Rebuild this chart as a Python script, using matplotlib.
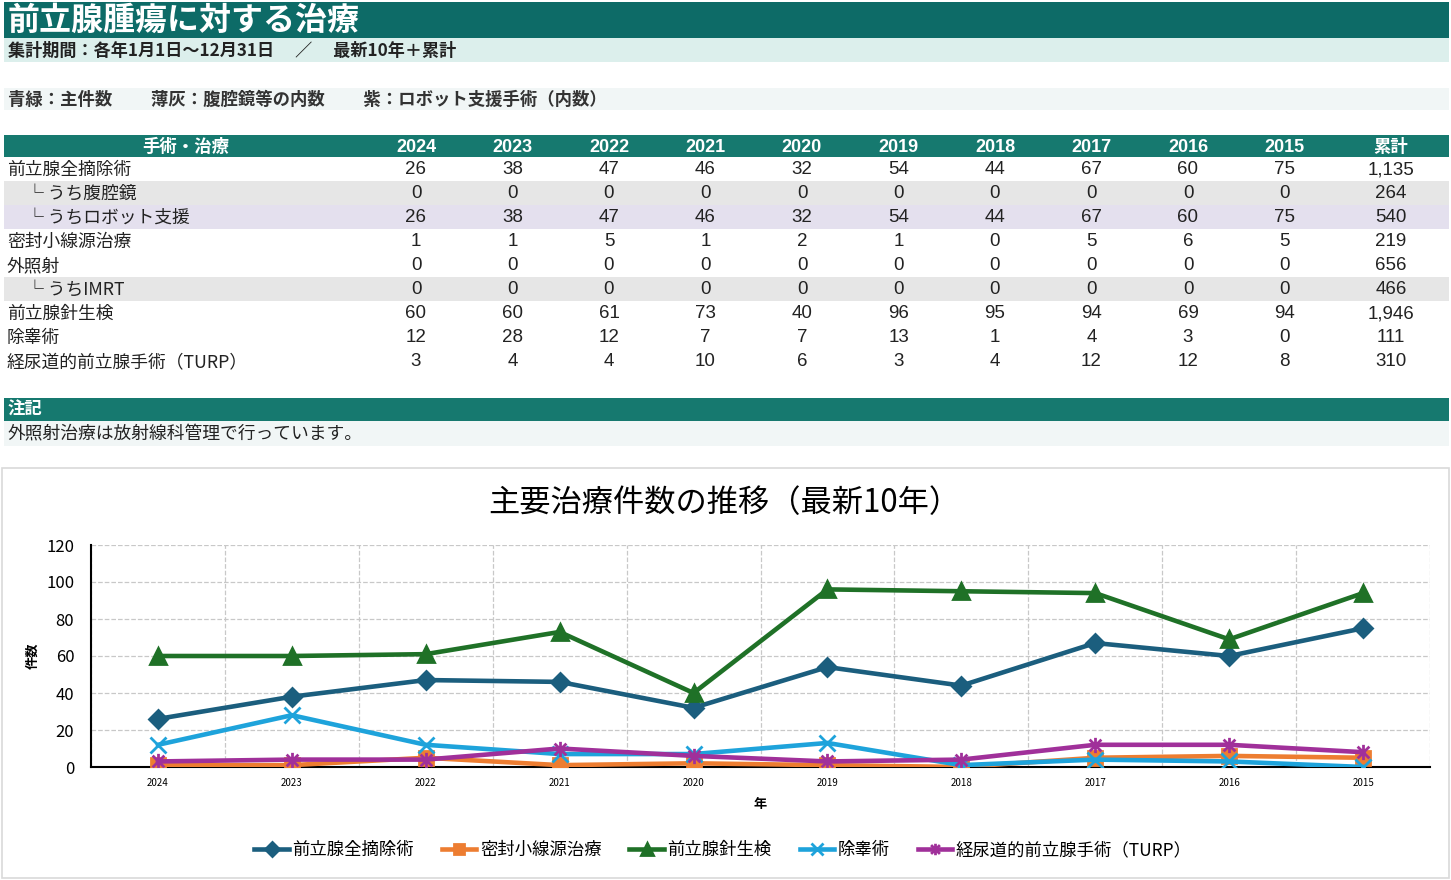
import numpy as np
import matplotlib.pyplot as plt
from matplotlib.patches import Rectangle
from matplotlib.path import Path

plt.rcParams['font.family'] = ['Noto Sans CJK JP', 'DejaVu Sans']

# ---- data ----
years = ["2024", "2023", "2022", "2021", "2020", "2019", "2018", "2017", "2016", "2015"]
row_labels = ["前立腺全摘除術", "└ うち腹腔鏡", "└ うちロボット支援", "密封小線源治療", "外照射",
              "└ うちIMRT", "前立腺針生検", "除睾術", "経尿道的前立腺手術（TURP）"]
rp_total = [26, 38, 47, 46, 32, 54, 44, 67, 60, 75]
rp_lap = [0, 0, 0, 0, 0, 0, 0, 0, 0, 0]
rp_robot = [26, 38, 47, 46, 32, 54, 44, 67, 60, 75]
brachy = [1, 1, 5, 1, 2, 1, 0, 5, 6, 5]
ebrt = [0, 0, 0, 0, 0, 0, 0, 0, 0, 0]
imrt = [0, 0, 0, 0, 0, 0, 0, 0, 0, 0]
biopsy = [60, 60, 61, 73, 40, 96, 95, 94, 69, 94]
orchiectomy = [12, 28, 12, 7, 7, 13, 1, 4, 3, 0]
turp = [3, 4, 4, 10, 6, 3, 4, 12, 12, 8]
cumulative = [1135, 264, 540, 219, 656, 466, 1946, 111, 310]
table_rows = [rp_total, rp_lap, rp_robot, brachy, ebrt, imrt, biopsy, orchiectomy, turp]

TEAL_DARK = "#0d6b67"
TEAL = "#16796f"
GRAY_ROW = "#e6e6e6"
PURPLE_ROW = "#e4e0ee"
num_font = ['Liberation Sans', 'Noto Sans CJK JP']

fig = plt.figure(figsize=(14.51, 8.8), dpi=100)
bg = fig.add_axes([0, 0, 1, 1])
bg.set_xlim(0, 1451)
bg.set_ylim(880, 0)
bg.axis("off")

def band(y0, y1, color, x0=4, x1=1449):
    bg.add_patch(Rectangle((x0, y0), x1 - x0, y1 - y0, color=color, lw=0, zorder=0))

# header blocks
band(2, 38, TEAL_DARK)
bg.text(8, 21, "前立腺腫瘍に対する治療", color="white", fontsize=23, fontweight="bold", va="center")
band(38, 62, "#dcefec")
bg.text(8, 51, "集計期間：各年1月1日〜12月31日　 ／ 　最新10年＋累計", fontsize=12.3, fontweight="bold",
        va="center", color="#222222")
band(88, 110, "#f1f6f6")
bg.text(8, 100, "青緑：主件数　　 薄灰：腹腔鏡等の内数　　 紫：ロボット支援手術（内数）", fontsize=12.5,
        fontweight="bold", va="center", color="#333333")

# table
col_x = [416 + 96.5 * i for i in range(10)]
cum_x = 1391
band(135, 157, TEAL)
bg.text(186, 147, "手術・治療", color="white", fontsize=12.5, fontweight="bold", ha="center", va="center")
for x, yr in zip(col_x, years):
    bg.text(x, 147, yr, color="white", fontsize=13, fontweight="bold", ha="center", va="center",
            family=num_font)
bg.text(cum_x, 147, "累計", color="white", fontsize=12.5, fontweight="bold", ha="center", va="center")

row_h = 24
for r, (lab, vals, cum) in enumerate(zip(row_labels, table_rows, cumulative)):
    y0 = 157 + r * row_h
    yc = y0 + row_h / 2 + 1
    if lab.startswith("└"):
        band(y0, y0 + row_h, PURPLE_ROW if "ロボット" in lab else GRAY_ROW)
        lx = 26
    else:
        lx = 7
    bg.text(lx, yc, lab, fontsize=12.8, va="center", color="#222222", family=['Noto Sans CJK JP', 'DejaVu Sans'])
    for x, v in zip(col_x, vals):
        bg.text(x, yc, str(v), fontsize=13.5, ha="center", va="center", color="#222222", family=num_font)
    bg.text(cum_x, yc, f"{cum:,}", fontsize=13.5, ha="center", va="center", color="#222222", family=num_font)

# note
band(398, 421, TEAL)
bg.text(8, 410, "注記", color="white", fontsize=12.5, fontweight="bold", va="center")
band(421, 446, "#f1f6f6")
bg.text(8, 434, "外照射治療は放射線科管理で行っています。", fontsize=12.8, va="center", color="#222222")

# chart frame
bg.add_patch(Rectangle((2, 468), 1447, 410, fill=False, ec="#d9d9d9", lw=1.2, zorder=1))
bg.text(724, 503, "主要治療件数の推移（最新10年）", fontsize=22.5, ha="center", va="center")
bg.text(33, 656, "件数", fontsize=9.5, fontweight="bold", rotation=90, ha="center", va="center")
bg.text(760, 804, "年", fontsize=9.5, fontweight="bold", ha="center", va="center")

# chart
ax = fig.add_axes([91 / 1451, 1 - 767 / 880, (1430 - 91) / 1451, (767 - 545) / 880])
ax.set_facecolor("none")
x = np.arange(len(years))
star = Path([(-1, -1), (1, 1), (-1, 1), (1, -1), (0, -1.3), (0, 1.3)],
            [Path.MOVETO, Path.LINETO, Path.MOVETO, Path.LINETO, Path.MOVETO, Path.LINETO])
series = [
    ("前立腺全摘除術", rp_total, "#1b5e7e", "D", 9),
    ("密封小線源治療", brachy, "#ed7d31", "s", 10),
    ("前立腺針生検", biopsy, "#1f7127", "^", 11),
    ("除睾術", orchiectomy, "#1ea3db", "x", 11),
    ("経尿道的前立腺手術（TURP）", turp, "#a0309a", star, 11),
]
for name, vals, c, m, ms in series:
    ax.plot(x, vals, color=c, lw=3.3, marker=m, markersize=ms, markeredgewidth=2,
            markerfacecolor=c, markeredgecolor=c, label=name, zorder=3)

ax.set_xlim(-0.5, 9.5)
ax.set_ylim(0, 120)
ax.set_yticks(range(0, 121, 20))
ax.set_xticks(x)
ax.set_xticklabels(years, fontsize=7)
ax.set_xticks(np.arange(-0.5, 10, 1), minor=True)
ax.tick_params(axis="y", length=0, labelsize=12, pad=12)
ax.tick_params(axis="x", which="both", length=0, pad=8)
ax.grid(axis="y", color="#c8c8c8", ls="--", lw=0.9)
ax.grid(axis="x", which="minor", color="#c8c8c8", ls="--", lw=0.9)
ax.grid(axis="x", which="major", visible=False)
for s in ["top", "right"]:
    ax.spines[s].set_visible(False)
ax.spines["left"].set_linewidth(1.5)
ax.spines["bottom"].set_linewidth(1.5)

fig.legend(loc="center", bbox_to_anchor=(723 / 1451, 1 - 850 / 880), ncol=5, frameon=False,
           fontsize=12.5, markerscale=0.75, handlelength=2.0, columnspacing=1.6, handletextpad=0.2)

fig.savefig("out.png", dpi=100)
